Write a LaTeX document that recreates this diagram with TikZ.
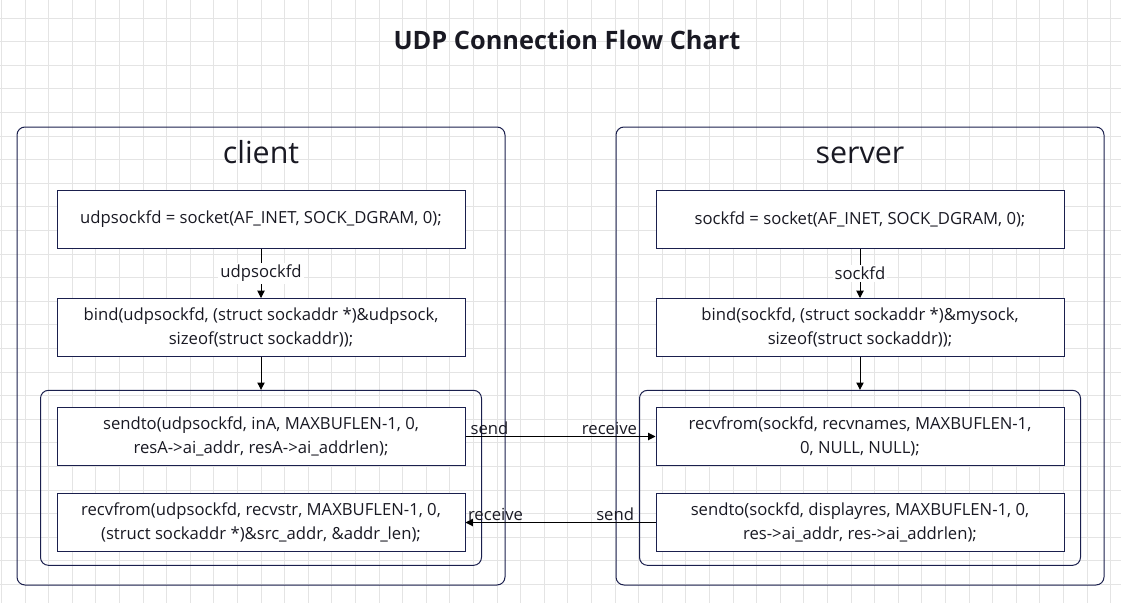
\documentclass[tikz,border=0pt]{standalone}
\usepackage{fontspec}
\setmainfont{Open Sans}
\usetikzlibrary{arrows.meta, positioning, fit}
\definecolor{navyline}{RGB}{26, 31, 77}
\definecolor{gridgray}{RGB}{228, 228, 228}
\definecolor{inkdark}{RGB}{25, 25, 35}

\begin{document}
\begin{tikzpicture}[
  x=0.75pt, y=-0.75pt,
  font=\fontsize{12.5}{18}\selectfont, text=inkdark,
  callbox/.style={rectangle, draw=navyline, fill=white, minimum width=306pt,
    minimum height=43.5pt, align=center, line width=0.75pt, inner sep=0pt},
  group/.style={rectangle, rounded corners=6pt, draw=navyline, line width=0.75pt, inner sep=0pt},
  side/.style={font=\fontsize{22.8}{26}\selectfont, anchor=base},
  arr/.style={-{Triangle[length=5.5pt, width=5.5pt]}, line width=0.75pt},
  tag/.style={fill=white, inner sep=1.5pt},
  endtag/.style={inner sep=1pt}
]
\useasboundingbox (0,0) rectangle (1121,603);

% background grid
\foreach \gx in {0,...,47}
  \draw[gridgray, line width=0.75pt] ({1.4+23.6*\gx},0) -- ++(0,603);
\foreach \gy in {0,...,24}
  \draw[gridgray, line width=0.75pt] (0,{18+23.6*\gy}) -- ++(1121,0);

\node[font=\bfseries\fontsize{19}{22}\selectfont] (title) at (567,40) {UDP Connection Flow Chart};

% client side
\node[group, minimum width=366pt, minimum height=343.5pt] (clientgroup) at (261,356) {};
\node[side] (clientname) at (261,163) {client};
\node[callbox] (csock) at (261,219.5) {udpsockfd = socket(AF\_INET, SOCK\_DGRAM, 0);};
\node[callbox, below=36.75pt of csock] (cbind) {bind(udpsockfd, (struct sockaddr *)\&udpsock,\\sizeof(struct sockaddr));};
\node[callbox, below=37.5pt of cbind] (csend) {sendto(udpsockfd, inA, MAXBUFLEN-1, 0,\\resA->ai\_addr, resA->ai\_addrlen);};
\node[callbox, below=20.25pt of csend] (crecv) {recvfrom(udpsockfd, recvstr, MAXBUFLEN-1, 0,\\(struct sockaddr *)\&src\_addr, \&addr\_len);};
\coordinate (ctop) at ([yshift=2.5pt]csend.north west);
\node[group, fit=(ctop) (crecv.south east), inner xsep=12pt, inner ysep=10pt] (cloop) {};

% server side
\node[group, minimum width=366pt, minimum height=343.5pt] (servergroup) at (860,356) {};
\node[side] (servername) at (860,163) {server};
\node[callbox] (ssock) at (860,219.5) {sockfd = socket(AF\_INET, SOCK\_DGRAM, 0);};
\node[callbox, below=36.75pt of ssock] (sbind) {bind(sockfd, (struct sockaddr *)\&mysock,\\sizeof(struct sockaddr));};
\node[callbox, below=37.5pt of sbind] (srecv) {recvfrom(sockfd, recvnames, MAXBUFLEN-1,\\0, NULL, NULL);};
\node[callbox, below=20.25pt of srecv] (ssend) {sendto(sockfd, displayres, MAXBUFLEN-1, 0,\\res->ai\_addr, res->ai\_addrlen);};
\coordinate (stop) at ([yshift=2.5pt]srecv.north west);
\node[group, fit=(stop) (ssend.south east), inner xsep=12pt, inner ysep=10pt] (sloop) {};

\draw[arr] (csock) -- node[tag] {udpsockfd} (cbind);
\draw[arr] (cbind) -- (cloop);
\draw[arr] (ssock) -- node[tag] {sockfd} (sbind);
\draw[arr] (sbind) -- (sloop);

\draw[arr] (csend) -- node[pos=0, anchor=south west, endtag, xshift=2.5pt] {send}
  node[pos=1, anchor=south east, endtag, xshift=-12.5pt] {receive} (srecv);
\draw[arr] (ssend) -- node[pos=0, anchor=south east, endtag, xshift=-14.75pt] {send}
  node[pos=1, anchor=south west, endtag, xshift=0.5pt] {receive} (crecv);

\end{tikzpicture}
\end{document}
